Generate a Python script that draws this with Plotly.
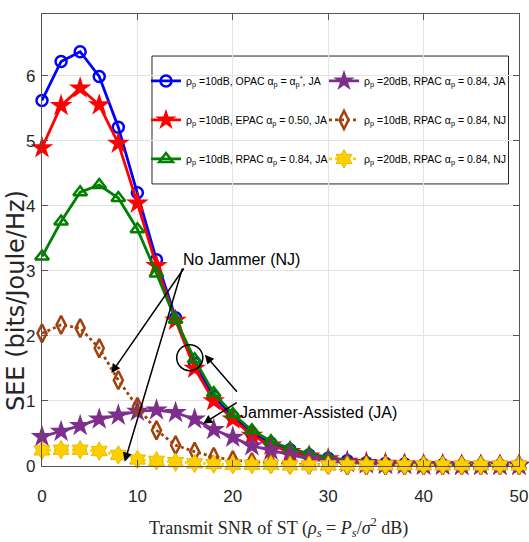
import plotly.graph_objects as go

snr_db = list(range(0, 51, 2))

see_opac_10_ja = [5.62, 6.22, 6.37, 5.99, 5.21, 4.20, 3.17, 2.28, 1.58, 1.07, 0.76, 0.50, 0.35, 0.25, 0.17, 0.12,
                  0.08, 0.05, 0.04, 0.03, 0.02, 0.02, 0.01, 0.01, 0.01, 0.01]
see_epac_10_ja = [4.89, 5.54, 5.81, 5.55, 4.96, 4.04, 3.08, 2.24, 1.50, 1.00, 0.72, 0.47, 0.32, 0.22, 0.15, 0.11,
                  0.07, 0.05, 0.04, 0.03, 0.02, 0.02, 0.01, 0.01, 0.01, 0.01]
see_rpac_10_ja = [3.22, 3.76, 4.21, 4.32, 4.12, 3.64, 2.96, 2.25, 1.64, 1.12, 0.80, 0.55, 0.38, 0.27, 0.19, 0.13,
                  0.08, 0.06, 0.04, 0.03, 0.02, 0.02, 0.01, 0.01, 0.01, 0.01]
see_rpac_20_ja = [0.45, 0.53, 0.62, 0.72, 0.78, 0.84, 0.86, 0.82, 0.72, 0.56, 0.44, 0.31, 0.24, 0.17, 0.11, 0.07,
                  0.05, 0.03, 0.02, 0.02, 0.01, 0.01, 0.01, 0.01, 0.01, 0.01]
see_rpac_10_nj = [2.04, 2.17, 2.12, 1.81, 1.32, 0.91, 0.55, 0.32, 0.22, 0.14, 0.09, 0.06, 0.04, 0.03, 0.02, 0.02,
                  0.01, 0.01, 0.01, 0.01, 0.01, 0.01, 0.01, 0.01, 0.01, 0.01]
see_rpac_20_nj = [0.24, 0.25, 0.25, 0.23, 0.17, 0.10, 0.08, 0.06, 0.04, 0.03, 0.02, 0.02, 0.02, 0.01, 0.01, 0.01,
                  0.01, 0.01, 0.01, 0.01, 0.01, 0.01, 0.01, 0.01, 0.01, 0.01]

x_ticks = [0, 10, 20, 30, 40, 50]
y_ticks = [0, 1, 2, 3, 4, 5, 6]

names = [
    "ρ<sub>p</sub> =10dB, OPAC α<sub>p</sub> = α<sub>p</sub><sup>*</sup>, JA",
    "ρ<sub>p</sub> =10dB, EPAC α<sub>p</sub> = 0.50, JA",
    "ρ<sub>p</sub> =10dB, RPAC α<sub>p</sub> = 0.84, JA",
    "ρ<sub>p</sub> =20dB, RPAC α<sub>p</sub> = 0.84, JA",
    "ρ<sub>p</sub> =10dB, RPAC α<sub>p</sub> = 0.84, NJ",
    "ρ<sub>p</sub> =20dB, RPAC α<sub>p</sub> = 0.84, NJ",
]

FONT = "Liberation Sans, Arial, sans-serif"

fig = go.Figure()

styles = [
    (see_opac_10_ja, "#0000FF", "solid", dict(symbol="circle-open", size=11, line=dict(width=2.5, color="#0000FF"))),
    (see_epac_10_ja, "#FF0000", "solid", dict(symbol="star", size=17, color="#FF0000", line=dict(width=0))),
    (see_rpac_10_ja, "#008000", "solid", dict(symbol="triangle-up-open", size=12, line=dict(width=2.5, color="#008000"))),
    (see_rpac_20_ja, "#7E2F8E", "solid", dict(symbol="star", size=17, color="#7E2F8E", line=dict(width=0))),
    (see_rpac_10_nj, "#A2410C", "dot", dict(symbol="diamond-tall-open", size=13, line=dict(width=2.5, color="#A2410C"))),
    (see_rpac_20_nj, "#FFD000", "dot", dict(symbol="hexagram", size=14, color="#FFD000", line=dict(width=1, color="#E8B800"))),
]

for i, (vals, col, dash, mk) in enumerate(styles):
    fig.add_trace(go.Scatter(
        x=snr_db, y=vals, name=names[i], mode="lines+markers",
        line=dict(color=col, width=2.8, dash=dash), marker=mk, cliponaxis=False,
        legend="legend" if i < 3 else "legend2", legendgroup=f"g{i}",
    ))

# legend frame (plot area: x 42..519 px, y 14..466 px)
fig.add_shape(type="rect", xref="x domain", yref="y domain", x0=0.2306, x1=0.9780, y0=0.624, y1=0.907,
              line=dict(color="#262626", width=1), fillcolor="white", layer="below")

# circle highlight
fig.add_shape(type="circle", xref="x", yref="y", x0=14.12, x1=16.86, y0=1.466, y1=1.866,
              line=dict(color="black", width=1.5))

ann_font = dict(family=FONT, size=16, color="black")
fig.add_annotation(x=14.62, y=3.17, text="No Jammer (NJ)", showarrow=False, xanchor="left", yanchor="middle", font=ann_font)
fig.add_annotation(x=20.55, y=0.83, text="Jammer-Assisted (JA)", showarrow=False, xanchor="left", yanchor="middle", font=ann_font)

arrows = [
    ((14.97, 3.06), (7.27, 1.43)),
    ((14.76, 3.06), (8.67, 0.066)),
    ((20.57, 1.12), (17.07, 1.71)),
    ((20.57, 0.99), (16.89, 0.65)),
]
for (tx, ty), (hx, hy) in arrows:
    fig.add_annotation(x=hx, y=hy, ax=tx, ay=ty, xref="x", yref="y", axref="x", ayref="y", text="",
                       showarrow=True, arrowhead=2, arrowsize=1.2, arrowwidth=1.5, arrowcolor="black")

# axis titles
fig.add_annotation(xref="paper", yref="paper", x=0.4948, y=-0.136, xanchor="center", yanchor="middle",
                   text="Transmit SNR of ST (<i>ρ<sub>s</sub></i> = <i>P<sub>s</sub></i>/<i>σ</i><sup>2</sup> dB)",
                   showarrow=False, font=dict(family="Liberation Serif, DejaVu Serif, serif", size=18, color="#262626"))
fig.add_annotation(xref="paper", yref="paper", x=-0.0545, y=0.365, xanchor="center", yanchor="middle",
                   text="SEE (bits/Joule/Hz)", textangle=-90, showarrow=False,
                   font=dict(family="DejaVu Sans, Liberation Sans, sans-serif", size=24, color="#262626"))

axis_common = dict(showline=True, linecolor="#555555", linewidth=1.2, mirror="ticks", ticks="inside",
                   ticklen=6, tickcolor="#555555", showgrid=True, gridcolor="#E3E3E3", gridwidth=1,
                   zeroline=False, automargin=False, tickfont=dict(family=FONT, size=17, color="#262626"))

fig.update_xaxes(range=[0, 50], tickvals=x_ticks, ticklabelstandoff=14, **axis_common)
fig.update_yaxes(range=[0, 6.95], tickvals=y_ticks, ticklabelstandoff=2, **axis_common)

leg_common = dict(orientation="v", bgcolor="rgba(0,0,0,0)", borderwidth=0, tracegroupgap=20,
                  font=dict(family=FONT, size=10.5, color="black"), xanchor="left", yanchor="top",
                  itemwidth=30)
fig.update_layout(
    width=529, height=542,
    margin=dict(l=42, r=10, t=14, b=76),
    plot_bgcolor="white", paper_bgcolor="white",
    showlegend=True,
    legend=dict(x=(146 - 42) / 477, y=0.884, **leg_common),
    legend2=dict(x=(324 - 42) / 477, y=0.884, **leg_common),
)

fig.write_html("out.html", config={"displayModeBar": False},
               post_script="document.body.style.margin='0';document.body.style.overflow='hidden';")
